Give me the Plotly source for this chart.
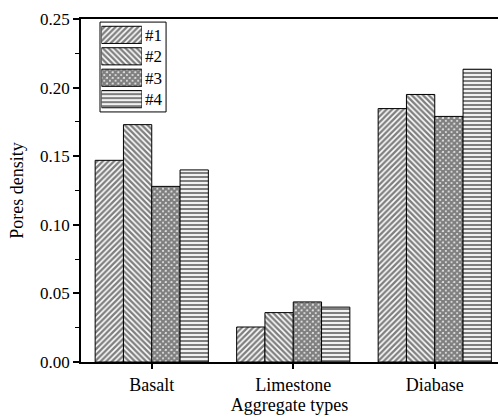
import plotly.graph_objects as go

# Pore density per aggregate type for four specimens
categories = ["Basalt", "Limestone", "Diabase"]
series_names = ["#1", "#2", "#3", "#4"]
s1 = [0.147, 0.0255, 0.1847]
s2 = [0.173, 0.036, 0.195]
s3 = [0.128, 0.0438, 0.179]
s4 = [0.140, 0.040, 0.2134]
series_values = [s1, s2, s3, s4]

y_ticks = [0.00, 0.05, 0.10, 0.15, 0.20, 0.25]

patterns = [
    dict(shape="/", size=4, solidity=0.6),
    dict(shape="\\", size=4, solidity=0.6),
    dict(shape="x", size=4, solidity=0.85),
    dict(shape="-", size=4, solidity=0.55),
]

FONT = "Liberation Serif, Times New Roman, serif"

fig = go.Figure()

for name, vals, pat in zip(series_names, series_values, patterns):
    fig.add_trace(go.Bar(
        x=categories, y=vals, name=name,
        marker=dict(color="white", line=dict(color="black", width=1),
                    pattern=dict(fgcolor="black", bgcolor="white", **pat)),
        showlegend=False,
    ))

# Legend drawn as a small horizontal bar chart so swatches keep the fill patterns
for name, pat in zip(series_names, patterns):
    fig.add_trace(go.Bar(
        x=[1], y=[name], orientation="h", xaxis="x2", yaxis="y2",
        marker=dict(color="white", line=dict(color="black", width=1),
                    pattern=dict(fgcolor="black", bgcolor="white", **pat)),
        showlegend=False, hoverinfo="skip",
    ))

fig.update_layout(
    width=498, height=419,
    margin=dict(l=81, r=0, t=19, b=57),
    paper_bgcolor="white", plot_bgcolor="white",
    font=dict(family=FONT, color="black", size=17),
    barmode="group", bargap=0.2, bargroupgap=0,
    showlegend=False,
    xaxis=dict(
        range=[-0.5, 2.447], showline=True, linecolor="black", linewidth=2,
        mirror=True, ticks="outside", ticklen=5, tickwidth=1.5, tickcolor="black",
        showgrid=False, tickfont=dict(size=18),
        title=dict(text="Aggregate types", font=dict(size=18), standoff=4),
    ),
    yaxis=dict(
        range=[0, 0.25], tickvals=y_ticks, tickformat=".2f",
        showline=True, linecolor="black", linewidth=1.5,
        ticks="outside", ticklen=6, tickwidth=1.5, tickcolor="black",
        minor=dict(dtick=0.025, ticks="outside", ticklen=4, tickwidth=1, tickcolor="black"),
        showgrid=False, zeroline=False, tickfont=dict(size=17),
        title=dict(text="Pores density", font=dict(size=18), standoff=12),
    ),
    xaxis2=dict(domain=[0.049, 0.146], anchor="y2", range=[0, 1],
                visible=False, fixedrange=True),
    yaxis2=dict(domain=[0.735, 0.985], anchor="x2", side="right",
                autorange="reversed", showline=False, showgrid=False,
                zeroline=False, ticks="", tickfont=dict(size=17),
                ticklabelstandoff=2),
    shapes=[dict(type="rect", xref="paper", yref="paper",
                 x0=0.0456, x1=0.204, y0=0.729, y1=0.991,
                 line=dict(color="black", width=1), fillcolor="rgba(0,0,0,0)")],
)

fig.write_html("out.html")
